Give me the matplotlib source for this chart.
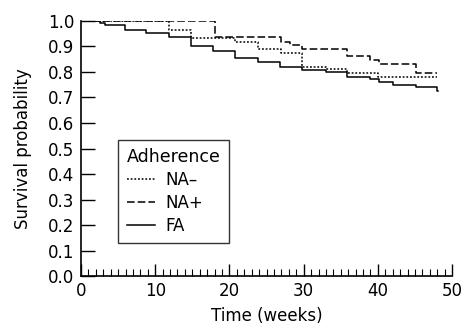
import matplotlib
matplotlib.use('Agg')
import matplotlib.pyplot as plt
from matplotlib.ticker import MultipleLocator, FormatStrFormatter

plt.rcParams['font.family'] = ['DejaVu Sans']

# Kaplan-Meier step data (time in weeks, survival probability)
fa_time = [0, 2.6, 3.2, 5.9, 8.8, 11.8, 14.8, 17.8, 20.8, 23.8, 26.8, 29.8, 33.0,
           35.9, 39.0, 40.1, 42.0, 45.1, 48.0, 48.1]
fa_surv = [1.0, 0.992, 0.983, 0.965, 0.952, 0.935, 0.900, 0.881, 0.855, 0.837, 0.820,
           0.807, 0.798, 0.779, 0.772, 0.762, 0.749, 0.740, 0.727, 0.727]

na_minus_time = [0, 11.8, 14.8, 20.7, 23.8, 26.9, 29.8, 33.0, 35.8, 40.0, 48.0]
na_minus_surv = [1.0, 0.965, 0.933, 0.918, 0.889, 0.873, 0.820, 0.812, 0.795, 0.778, 0.778]

na_plus_time = [0, 18.1, 26.9, 28.1, 29.8, 35.9, 39.0, 40.1, 45.1, 48.0]
na_plus_surv = [1.0, 0.935, 0.916, 0.905, 0.888, 0.862, 0.846, 0.829, 0.797, 0.797]

fig = plt.figure(figsize=(4.61, 3.29), dpi=100)
ax = fig.add_axes([0.1757, 0.160, 0.805, 0.777])

# curves
ax.step(na_minus_time, na_minus_surv, where='post', color='black', lw=1.1,
        linestyle=(0, (1.2, 1.2)), label='NA\u2013')
ax.step(na_plus_time, na_plus_surv, where='post', color='black', lw=1.1,
        linestyle=(0, (5, 2)), label='NA+')
ax.step(fa_time, fa_surv, where='post', color='black', lw=1.1, label='FA')

ax.set_xlim(0, 50)
ax.set_ylim(0, 1.0)
ax.spines['top'].set_visible(False)
ax.spines['right'].set_visible(False)
ax.spines['left'].set_linewidth(1.2)
ax.spines['bottom'].set_linewidth(1.2)

ax.xaxis.set_major_locator(MultipleLocator(10))
ax.xaxis.set_minor_locator(MultipleLocator(1))
ax.yaxis.set_major_locator(MultipleLocator(0.1))
ax.yaxis.set_major_formatter(FormatStrFormatter('%.1f'))

ax.tick_params(axis='y', which='major', direction='in', length=10, width=1.0,
               labelsize=12, pad=5)
ax.tick_params(axis='x', which='major', direction='in', length=9, width=1.0,
               labelsize=12, pad=4)
ax.tick_params(axis='x', which='minor', direction='in', length=5, width=0.8)

ax.set_xlabel('Time (weeks)', fontsize=12, labelpad=5)
ax.set_ylabel('Survival probability', fontsize=12, labelpad=11)

leg = ax.legend(title='Adherence', loc='lower left', bbox_to_anchor=(0.1005, 0.129),
                fontsize=12, title_fontsize=12.5, frameon=True, fancybox=False,
                handlelength=1.7, handletextpad=0.6, labelspacing=0.3,
                borderpad=0.5, borderaxespad=0, alignment='left')
leg.get_frame().set_edgecolor('black')
leg.get_frame().set_linewidth(1.0)

fig.savefig('out.png', dpi=100)
